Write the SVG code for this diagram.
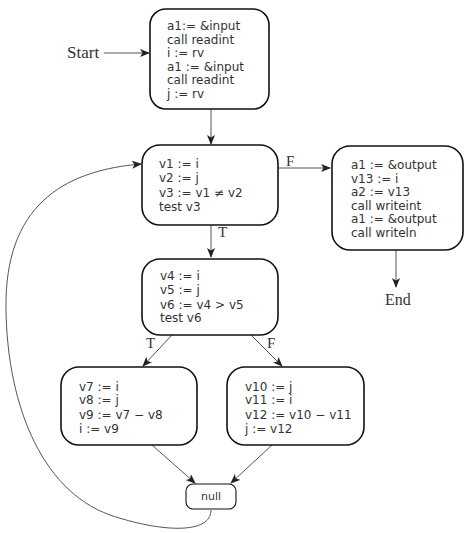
<svg xmlns="http://www.w3.org/2000/svg" width="473" height="533" viewBox="0 0 473 533">
<style>
.box{fill:#fff;stroke:#111;stroke-width:1.6}
.nb{fill:#fff;stroke:#111;stroke-width:1.1}
.t{font-family:"DejaVu Sans",sans-serif;font-size:12px;fill:#333}
.s{font-family:"Liberation Serif",serif;font-size:15px;fill:#333}
.e{fill:none;stroke:#555;stroke-width:1}
</style>
<defs>
<marker id="ah" markerWidth="10" markerHeight="8" refX="9" refY="4" orient="auto" markerUnits="userSpaceOnUse">
<path d="M0,0 L10,4 L0,8 L2.5,4 Z" fill="#222"/>
</marker>
</defs>
<rect width="473" height="533" fill="#fff"/>
<g id="connectors">
<path class="e" d="M104,53 H149" marker-end="url(#ah)"/>
<path class="e" d="M211,109 V144" marker-end="url(#ah)"/>
<path class="e" d="M278,168 H330" marker-end="url(#ah)"/>
<text class="s" x="286" y="166">F</text>
<path class="e" d="M211,225 V257" marker-end="url(#ah)"/>
<text class="s" x="218" y="237">T</text>
<path class="e" d="M396,250 V287" marker-end="url(#ah)"/>
<path class="e" d="M172,335 L143,366" marker-end="url(#ah)"/>
<text class="s" x="146" y="348">T</text>
<path class="e" d="M251,335 L282,366" marker-end="url(#ah)"/>
<text class="s" x="267" y="348">F</text>
<path class="e" d="M152,445 L195,483" marker-end="url(#ah)"/>
<path class="e" d="M272,445 L231,483" marker-end="url(#ah)"/>
<path class="e" d="M211,510 C211,535 160,532 110,515 C40,490 5,400 6,300 C8,200 70,170 141,164" marker-end="url(#ah)"/>
</g>
<g id="start"><text class="s" x="67" y="58" style="font-size:17px">Start</text></g>
<g id="end"><text class="s" x="385" y="305" style="font-size:16px">End</text></g>
<g id="b1">
<rect class="box" x="150" y="9" width="119" height="100" rx="16"/>
<text class="t"><tspan x="167" y="30">a1:= &amp;input</tspan><tspan x="167" y="43.5">call readint</tspan><tspan x="167" y="57">i := rv</tspan><tspan x="167" y="70.5">a1 := &amp;input</tspan><tspan x="167" y="84">call readint</tspan><tspan x="167" y="97.5">j := rv</tspan></text>
</g>
<g id="b2">
<rect class="box" x="142" y="145" width="136" height="80" rx="18"/>
<text class="t"><tspan x="159" y="168">v1 := i</tspan><tspan x="159" y="182">v2 := j</tspan><tspan x="159" y="197">v3 := v1 ≠ v2</tspan><tspan x="159" y="211">test v3</tspan></text>
</g>
<g id="b3">
<rect class="box" x="332" y="146" width="131" height="104" rx="18"/>
<text class="t"><tspan x="351" y="169">a1 := &amp;output</tspan><tspan x="351" y="183">v13 := i</tspan><tspan x="351" y="196">a2 := v13</tspan><tspan x="351" y="210">call writeint</tspan><tspan x="351" y="223">a1 := &amp;output</tspan><tspan x="351" y="237">call writeln</tspan></text>
</g>
<g id="b4">
<rect class="box" x="142" y="259" width="136" height="76" rx="18"/>
<text class="t"><tspan x="160" y="280">v4 := i</tspan><tspan x="160" y="294">v5 := j</tspan><tspan x="160" y="309">v6 := v4 &gt; v5</tspan><tspan x="160" y="322">test v6</tspan></text>
</g>
<g id="b5">
<rect class="box" x="61" y="367" width="136" height="78" rx="18"/>
<text class="t"><tspan x="79" y="391">v7 := i</tspan><tspan x="79" y="404">v8 := j</tspan><tspan x="79" y="419">v9 := v7 − v8</tspan><tspan x="79" y="433">i := v9</tspan></text>
</g>
<g id="b6">
<rect class="box" x="227" y="367" width="137" height="78" rx="18"/>
<text class="t"><tspan x="245" y="391">v10 := j</tspan><tspan x="245" y="404">v11 := i</tspan><tspan x="245" y="419">v12 := v10 − v11</tspan><tspan x="245" y="433">j := v12</tspan></text>
</g>
<g id="null">
<rect class="nb" x="186" y="484" width="50" height="25" rx="7"/>
<text class="t" x="211" y="500" text-anchor="middle" style="font-size:11px">null</text>
</g>
</svg>
